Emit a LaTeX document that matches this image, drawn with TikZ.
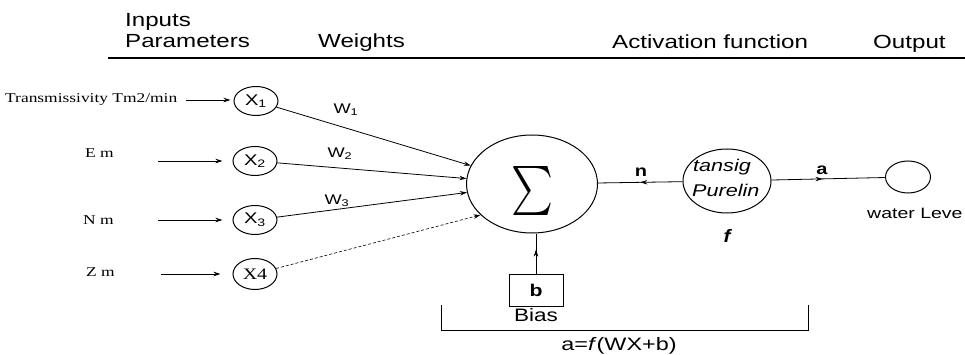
\documentclass[tikz,border=0pt]{standalone}
\usepackage{fontspec}
\usepackage{graphicx}
\setmainfont{Liberation Serif}
\newfontfamily\arialf{Liberation Sans}
\usetikzlibrary{arrows.meta,shapes.geometric,decorations.markings}
\newcommand{\hsx}[2]{\scalebox{#1}[1]{#2}}
\newcommand{\fsz}[1]{\fontsize{#1}{#1}\selectfont}
\begin{document}
\begin{tikzpicture}[x=1pt,y=-1pt,
  inode/.style={draw, ellipse, line width=1pt, minimum width=44pt, minimum height=29pt, inner sep=0pt},
  conn/.style={line width=0.8pt, -{Stealth[length=7pt,width=4.5pt]}},
  lbl/.style={inner sep=0pt},
  hdr/.style={inner sep=0pt, font=\arialf\fsz{19}},
  midarrow/.style={line width=0.8pt, postaction=decorate, decoration={markings, mark=at position #1 with {\arrow{Stealth[length=7pt,width=4.5pt]}}}},
]
\useasboundingbox (0,0) rectangle (965,355);
% header
\node[hdr, anchor=base west] (hin) at (125,27) {\hsx{1.27}{Inputs}};
\node[hdr, anchor=base west] (hpar) at (125,48) {\hsx{1.27}{Parameters}};
\node[hdr, anchor=base west] (hw) at (318,48) {\hsx{1.27}{Weights}};
\node[hdr, anchor=base west] (hact) at (612,49) {\hsx{1.27}{Activation function}};
\node[hdr, anchor=base west] (hout) at (873,49) {\hsx{1.27}{Output}};
\coordinate (hl) at (108,58);
\coordinate (hr) at (965,58);
\draw[line width=1.4pt] (hl) -- (hr);
% input labels
\node[lbl, anchor=west, font=\fsz{13.5}] (tr) at (5,99) {\hsx{1.29}{Transmissivity Tm2/min}};
\node[lbl, anchor=west, font=\fsz{13.5}] (em) at (85,153) {\hsx{1.29}{E m}};
\node[lbl, anchor=west, font=\fsz{13.5}] (nm) at (83,220) {\hsx{1.29}{N m}};
\node[lbl, anchor=west, font=\fsz{13.5}] (zm) at (86,272) {\hsx{1.29}{Z m}};
% input nodes
\node[inode] (x1) at (256,101) {\arialf\fsz{15.5}\hsx{1.3}{X\textsubscript{1}}};
\node[inode] (x2) at (255,161) {\arialf\fsz{15.5}\hsx{1.3}{X\textsubscript{2}}};
\node[inode] (x3) at (255,220) {\arialf\fsz{15.5}\hsx{1.3}{X\textsubscript{3}}};
\node[inode, minimum height=31pt] (x4) at (255,274) {\fsz{16}\hsx{1.25}{X4}};
\coordinate (a1) at (186,100);
\coordinate (a2) at (158,161);
\coordinate (a3) at (158,220);
\coordinate (a4) at (161,274);
\draw[conn, shorten >=3pt] (a1) -- (a1 -| x1.west);
\draw[conn, shorten >=10pt] (a2) -- (a2 -| x2.west);
\draw[conn, shorten >=10pt] (a3) -- (a3 -| x3.west);
\draw[conn, shorten >=12pt] (a4) -- (a4 -| x4.west);
% summation
\node[draw, ellipse, line width=1pt, minimum width=131pt, minimum height=98pt, inner sep=0pt] (sig) at (532,184) {};
\node[lbl] (sgm) at (532,191) {\resizebox*{42pt}{49pt}{$\sum$}};
\draw[conn] (x1) -- (sig);
\draw[conn] (x2) -- (sig);
\draw[conn] (x3) -- (sig);
\draw[conn, densely dashed, line width=0.6pt] (x4) -- (sig.211);
% weights
\node[lbl, font=\arialf\fsz{14}] (w1) at (346,110) {\hsx{1.3}{W\textsubscript{1}}};
\node[lbl, font=\arialf\fsz{14}] (w2) at (340,154) {\hsx{1.3}{W\textsubscript{2}}};
\node[lbl, font=\arialf\fsz{14}] (w3) at (337,201) {\hsx{1.3}{W\textsubscript{3}}};
% bias
\node[draw, line width=0.9pt, minimum width=54pt, minimum height=32pt, inner sep=0pt] (bb) at (536,290) {\arialf\bfseries\fsz{17}\hsx{1.25}{b}};
\draw[midarrow=0.6] (bb.north) -- (bb.north |- sig.south);
\node[lbl, anchor=base, font=\arialf\fsz{18}] (bias) at (536,321) {\hsx{1.25}{Bias}};
% bracket
\coordinate (k1) at (441,305);
\coordinate (k2) at (441,330);
\coordinate (k3) at (808,330);
\coordinate (k4) at (808,305);
\draw[line width=0.9pt] (k1) -- (k2) -- (k3) -- (k4);
\node[lbl, anchor=base, font=\arialf\fsz{18}] (form) at (619,350) {\hsx{1.3}{a=\textit{f}(WX+b)}};
% activation
\node[draw, ellipse, line width=1pt, minimum width=88pt, minimum height=64pt, inner sep=0pt] (tan) at (727,181) {};
\node[lbl, anchor=west, font=\arialf\itshape\fsz{17}] (t1) at (693,167) {\hsx{1.27}{tansig}};
\node[lbl, anchor=west, font=\arialf\itshape\fsz{17}] (t2) at (692,190) {\hsx{1.27}{Purelin}};
\node[lbl, font=\arialf\bfseries\itshape\fsz{18}] (f) at (727,236) {\hsx{1.15}{f}};
\draw[midarrow=0.5] (tan) -- (sig);
\node[lbl, font=\arialf\bfseries\fsz{16}] (nl) at (641,172) {\hsx{1.25}{n}};
% output
\node[draw, ellipse, line width=1pt, minimum width=45pt, minimum height=32pt, inner sep=0pt] (out) at (908,177) {};
\draw[midarrow=0.45] (tan) -- (out);
\node[lbl, font=\arialf\bfseries\fsz{16}] (al) at (822,170) {\hsx{1.25}{a}};
\node[lbl, anchor=west, font=\arialf\fsz{15}] (wl) at (867,213) {\hsx{1.3}{water Leve}};
\end{tikzpicture}
\end{document}
